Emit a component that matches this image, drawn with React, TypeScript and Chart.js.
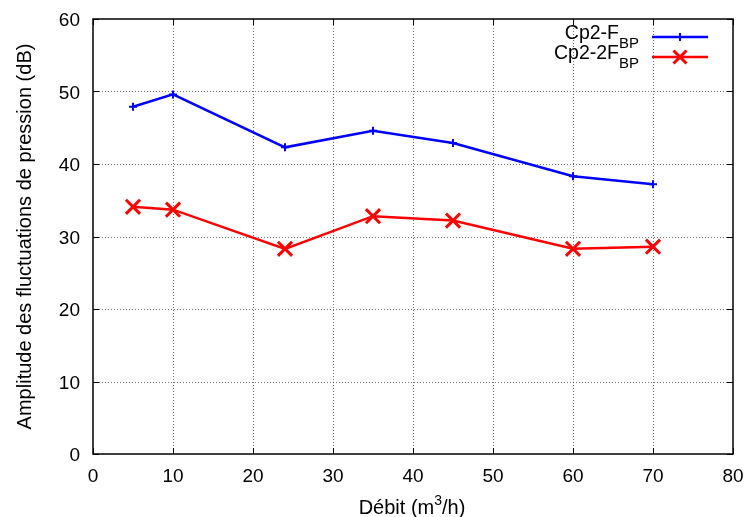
import React, { useEffect, useRef } from "react";
import { Chart, registerables } from "chart.js";

Chart.register(...registerables);

const xValues = [5, 10, 24, 35, 45, 60, 70];
const seriesFBP = [47.9, 49.6, 42.3, 44.6, 42.9, 38.3, 37.2];
const series2FBP = [34.1, 33.7, 28.3, 32.8, 32.2, 28.3, 28.6];
const xTicks = [0, 10, 20, 30, 40, 50, 60, 70, 80];
const yTicks = [0, 10, 20, 30, 40, 50, 60];
const legendLabels = [
  { main: "Cp2-F", sub: "BP" },
  { main: "Cp2-2F", sub: "BP" },
];
const xTitle = { main: "Débit (m", sup: "3", tail: "/h)" };
const yTitle = "Amplitude des fluctuations de pression (dB)";

const FONT = "'Liberation Sans', Arial, sans-serif";

const gnuplotPlugin = {
  id: "gnuplotDecor",
  beforeDatasetsDraw(chart: any) {
    const { ctx, chartArea: a } = chart;
    const xs = chart.scales.x;
    const ys = chart.scales.y;
    ctx.save();
    ctx.strokeStyle = "rgba(0,0,0,0.55)";
    ctx.lineWidth = 1;
    ctx.setLineDash([1, 2]);
    xTicks.forEach((v) => {
      if (v === xTicks[0] || v === xTicks[xTicks.length - 1]) return;
      const px = Math.round(xs.getPixelForValue(v)) + 0.5;
      ctx.beginPath();
      ctx.moveTo(px, a.top);
      ctx.lineTo(px, a.bottom);
      ctx.stroke();
    });
    yTicks.forEach((v) => {
      if (v === yTicks[0] || v === yTicks[yTicks.length - 1]) return;
      const py = Math.round(ys.getPixelForValue(v)) + 0.5;
      ctx.beginPath();
      ctx.moveTo(a.left, py);
      ctx.lineTo(a.right, py);
      ctx.stroke();
    });
    ctx.setLineDash([]);
    // tick marks (inward, mirrored)
    ctx.strokeStyle = "#000";
    ctx.lineWidth = 1;
    const tl = 6;
    xTicks.forEach((v) => {
      const px = Math.round(xs.getPixelForValue(v)) + 0.5;
      ctx.beginPath();
      ctx.moveTo(px, a.bottom);
      ctx.lineTo(px, a.bottom - tl);
      ctx.moveTo(px, a.top);
      ctx.lineTo(px, a.top + tl);
      ctx.stroke();
    });
    yTicks.forEach((v) => {
      const py = Math.round(ys.getPixelForValue(v)) + 0.5;
      ctx.beginPath();
      ctx.moveTo(a.left, py);
      ctx.lineTo(a.left + tl, py);
      ctx.moveTo(a.right, py);
      ctx.lineTo(a.right - tl, py);
      ctx.stroke();
    });
    // frame
    ctx.lineWidth = 1.5;
    ctx.strokeRect(a.left, a.top, a.right - a.left, a.bottom - a.top);
    // tick labels
    ctx.fillStyle = "#000";
    ctx.font = `19px ${FONT}`;
    ctx.textBaseline = "alphabetic";
    ctx.textAlign = "right";
    yTicks.forEach((v) => {
      const py = ys.getPixelForValue(v);
      ctx.fillText(String(v), a.left - 13, py + 7);
    });
    ctx.textAlign = "center";
    xTicks.forEach((v) => {
      const px = xs.getPixelForValue(v);
      ctx.fillText(String(v), px, a.bottom + 28);
    });
    ctx.restore();
  },
  afterDraw(chart: any) {
    const { ctx, chartArea: a } = chart;
    ctx.save();
    ctx.fillStyle = "#000";
    // legend
    const colors = ["#0000ff", "#ff0000"];
    const rowsY = [37, 57];
    const textRight = 639;
    legendLabels.forEach((lab, i) => {
      const y = rowsY[i];
      ctx.font = `15px ${FONT}`;
      const subW = ctx.measureText(lab.sub).width;
      ctx.font = `19.5px ${FONT}`;
      const mainW = ctx.measureText(lab.main).width;
      ctx.textBaseline = "alphabetic";
      ctx.textAlign = "left";
      ctx.fillText(lab.main, textRight - subW - mainW, y + 2);
      ctx.font = `15px ${FONT}`;
      ctx.fillText(lab.sub, textRight - subW, y + 11);
      // line sample
      ctx.strokeStyle = colors[i];
      ctx.lineWidth = 2.5;
      ctx.beginPath();
      ctx.moveTo(652, y);
      ctx.lineTo(708, y);
      ctx.stroke();
      const cx = 680;
      ctx.beginPath();
      if (i === 0) {
        ctx.lineWidth = 2;
        ctx.moveTo(cx - 4, y);
        ctx.lineTo(cx + 4, y);
        ctx.moveTo(cx, y - 4);
        ctx.lineTo(cx, y + 4);
      } else {
        ctx.lineWidth = 3;
        ctx.moveTo(cx - 6.5, y - 6.5);
        ctx.lineTo(cx + 6.5, y + 6.5);
        ctx.moveTo(cx - 6.5, y + 6.5);
        ctx.lineTo(cx + 6.5, y - 6.5);
      }
      ctx.stroke();
    });
    // x title
    ctx.fillStyle = "#000";
    ctx.font = `20px ${FONT}`;
    const w1 = ctx.measureText(xTitle.main).width;
    const w3 = ctx.measureText(xTitle.tail).width;
    ctx.font = `14px ${FONT}`;
    const w2 = ctx.measureText(xTitle.sup).width;
    const total = w1 + w2 + w3;
    const cx = 412;
    const x0 = cx - total / 2;
    const by = 514;
    ctx.textAlign = "left";
    ctx.textBaseline = "alphabetic";
    ctx.font = `20px ${FONT}`;
    ctx.fillText(xTitle.main, x0, by);
    ctx.font = `14px ${FONT}`;
    ctx.fillText(xTitle.sup, x0 + w1, by - 9);
    ctx.font = `20px ${FONT}`;
    ctx.fillText(xTitle.tail, x0 + w1 + w2, by);
    // y title
    ctx.save();
    ctx.translate(31, (a.top + a.bottom) / 2);
    ctx.rotate(-Math.PI / 2);
    ctx.textAlign = "center";
    ctx.textBaseline = "alphabetic";
    ctx.font = `20px ${FONT}`;
    ctx.fillText(yTitle, 0, 0);
    ctx.restore();
    ctx.restore();
  },
};

export default function App() {
  const ref = useRef<HTMLCanvasElement>(null);
  useEffect(() => {
    if (!ref.current) return;
    const chart = new Chart(ref.current, {
      type: "line",
      data: {
        datasets: [
          {
            label: "Cp2-FBP",
            data: xValues.map((x, i) => ({ x, y: seriesFBP[i] })),
            borderColor: "#0000ff",
            backgroundColor: "#0000ff",
            borderWidth: 2.5,
            pointStyle: "cross",
            pointRadius: 4,
            pointBorderWidth: 2,
            tension: 0,
          },
          {
            label: "Cp2-2FBP",
            data: xValues.map((x, i) => ({ x, y: series2FBP[i] })),
            borderColor: "#ff0000",
            backgroundColor: "#ff0000",
            borderWidth: 2.5,
            pointStyle: "crossRot",
            pointRadius: 10,
            pointBorderWidth: 3,
            tension: 0,
          },
        ],
      },
      options: {
        animation: false,
        responsive: false,
        maintainAspectRatio: false,
        layout: { padding: { top: 19, right: 15, left: 0, bottom: 0 } },
        plugins: {
          legend: { display: false },
          tooltip: { enabled: false },
        },
        scales: {
          x: {
            type: "linear",
            min: 0,
            max: 80,
            afterBuildTicks: (s: any) => {
              s.ticks = xTicks.map((v) => ({ value: v }));
            },
            afterFit: (s: any) => {
              s.height = 63;
            },
            grid: { display: false, drawTicks: false },
            border: { display: false },
            ticks: { display: false },
          },
          y: {
            type: "linear",
            min: 0,
            max: 60,
            afterBuildTicks: (s: any) => {
              s.ticks = yTicks.map((v) => ({ value: v }));
            },
            afterFit: (s: any) => {
              s.width = 93;
            },
            grid: { display: false, drawTicks: false },
            border: { display: false },
            ticks: { display: false },
          },
        },
      },
      plugins: [gnuplotPlugin],
    } as any);
    return () => chart.destroy();
  }, []);
  return (
    <div style={{ position: "fixed", left: 0, top: 0, width: 748, height: 517, background: "#fff" }}>
      <canvas ref={ref} width={748} height={517} style={{ width: 748, height: 517 }} />
    </div>
  );
}
